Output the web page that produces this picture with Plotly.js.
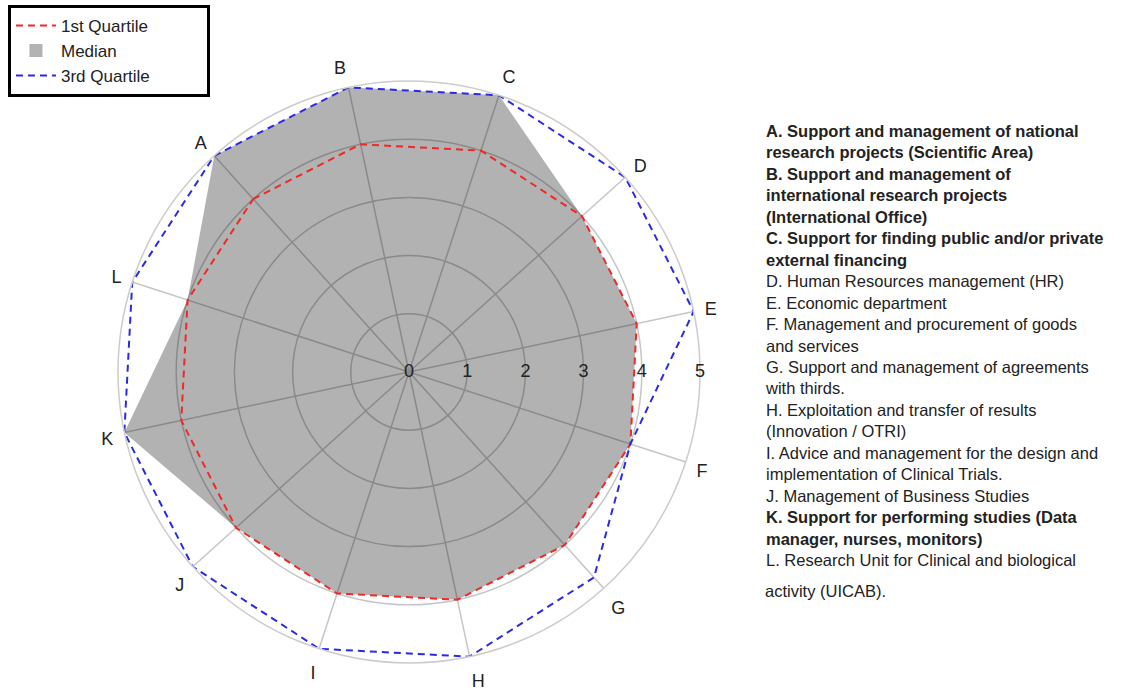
<!DOCTYPE html>
<html>
<head>
<meta charset="utf-8">
<script src="https://cdn.plot.ly/plotly-3.0.1.min.js"></script>
<style>html,body{margin:0;padding:0;background:#fff;}#chart{width:1138px;height:692px;}</style>
</head>
<body>
<div id="chart"></div>
<script>
// ---- data ----
const categories = ["A","B","C","D","E","F","G","H","I","J","K","L"];
const quartile1 = [4,4,4,4,4,4,4,4,4,4,4,4];
const median    = [5,5,5,4,4,4,4,4,4,4,5,4];
const quartile3 = [5,5,5,5,5,4,4.75,5,5,5,5,5];
const radialTicks = [0,1,2,3,4,5];
const seriesNames = ["1st Quartile","Median","3rd Quartile"];
const descriptions = [
  "A. Support and management of national<br>research projects (Scientific Area)",
  "B. Support and management of<br>international research projects<br>(International Office)",
  "C. Support for finding public and/or private<br>external financing",
  "D. Human Resources management (HR)",
  "E. Economic department",
  "F. Management and procurement of goods<br>and services",
  "G. Support and management of agreements<br>with thirds.",
  "H. Exploitation and transfer of results<br>(Innovation / OTRI)",
  "I. Advice and management for the design and<br>implementation of Clinical Trials.",
  "J. Management of Business Studies",
  "K. Support for performing studies (Data<br>manager, nurses, monitors)",
  "L. Research Unit for Clinical and biological"
];
const descriptionTail = "activity (UICAB).";
const boldCategories = ["A","B","C","K"];

const close = a => a.concat([a[0]]);
const FONT = "Liberation Sans, Arial, sans-serif";
const pad = s => s + "\u00a0".repeat(11);

const traces = [
  {type:"scatterpolar", subplot:"polar", r: close(median), theta: close(categories),
   mode:"lines", fill:"toself", fillcolor:"rgba(0,0,0,0.3)", line:{width:0, color:"rgba(0,0,0,0)"},
   name:seriesNames[1], showlegend:false, hoverinfo:"skip"},
  {type:"scatterpolar", subplot:"polar", r: close(quartile1), theta: close(categories),
   mode:"lines", line:{color:"#f02828", width:2, dash:"7px,5px"}, name:pad(seriesNames[0]), legendrank:1},
  {type:"scatterpolar", subplot:"polar", r: [null], theta: [null],
   mode:"markers", marker:{symbol:"square", size:13, color:"#b3b3b3"}, name:pad(seriesNames[1]), legendrank:2},
  {type:"scatterpolar", subplot:"polar", r: close(quartile3), theta: close(categories),
   mode:"lines", line:{color:"#2a2ae6", width:2, dash:"7px,5px"}, name:pad(seriesNames[2]), legendrank:3},
  {type:"scatterpolar", subplot:"polar2", r: radialTicks, theta: radialTicks.map(()=>0),
   mode:"text", text: radialTicks.map(String), textposition:"middle center",
   textfont:{family:FONT, size:18, color:"#222"}, showlegend:false, hoverinfo:"skip"}
];

const lines = descriptions.map((d,i) => boldCategories.includes(categories[i]) ? "<b>"+d.split("<br>").join("</b><br><b>")+"</b>" : d);

const dom = {x:[118/1138, 700/1138], y:[1-663/692, 1-81/692]};
const layout = {
  width:1138, height:692, margin:{l:0,r:0,t:0,b:0},
  paper_bgcolor:"#fff", font:{family:FONT, color:"#222"},
  polar:{
    domain: dom, bgcolor:"rgba(0,0,0,0)",
    radialaxis:{range:[0,5], tickvals:radialTicks.slice(1), showticklabels:false, ticks:"",
      showline:false, gridcolor:"#c6c6c6", gridwidth:1.5},
    angularaxis:{type:"category", categoryarray:categories, rotation:132, direction:"clockwise",
      gridcolor:"#c6c6c6", gridwidth:1.5, showline:true, linecolor:"#cccccc", linewidth:1.5,
      ticks:"outside", ticklen:7, tickcolor:"rgba(0,0,0,0)",
      tickfont:{family:FONT, size:18, color:"#222"}}
  },
  polar2:{
    domain: dom, bgcolor:"rgba(0,0,0,0)",
    radialaxis:{range:[0,5], visible:false},
    angularaxis:{visible:false, rotation:0, direction:"counterclockwise"}
  },
  showlegend:true,
  legend:{x:0.007, y:0.993, xanchor:"left", yanchor:"top", bgcolor:"#fff",
    bordercolor:"#000", borderwidth:3, font:{family:FONT, size:17, color:"#222"},
    traceorder:"normal", itemwidth:40},
  annotations:[
    {xref:"paper", yref:"paper", x:763/1138, y:1-120/692, xanchor:"left", yanchor:"top",
     align:"left", showarrow:false, text: lines.join("<br>"),
     font:{family:FONT, size:16.5, color:"#222"}},
    {xref:"paper", yref:"paper", x:763/1138, y:1-580/692, xanchor:"left", yanchor:"top",
     align:"left", showarrow:false, text: descriptionTail,
     font:{family:FONT, size:16.5, color:"#222"}}
  ]
};

Plotly.newPlot("chart", traces, layout, {displayModeBar:false, staticPlot:true});
</script>
</body>
</html>
